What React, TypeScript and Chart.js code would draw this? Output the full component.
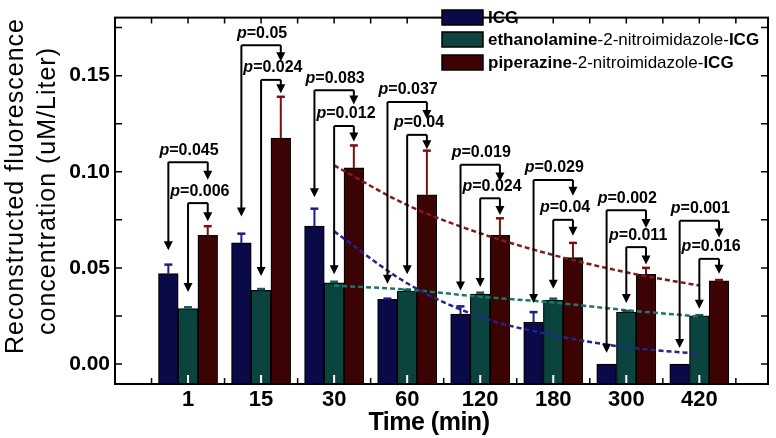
import React, { useEffect, useRef } from 'react';
import { Chart, registerables } from 'chart.js';

Chart.register(...registerables);

// ---------- data ----------
const times = ['1', '15', '30', '60', '120', '180', '300', '420'];

const icgValues = [0.047, 0.063, 0.0717, 0.0336, 0.026, 0.0217, 0, 0];
const icgErrors = [0.0047, 0.0048, 0.0091, 0.0004, 0.004, 0.0053, 0, 0];
const ethValues = [0.0288, 0.0383, 0.0422, 0.038, 0.0364, 0.0333, 0.027, 0.025];
const ethErrors = [0.0007, 0.0007, 0.0006, 0.0006, 0.0007, 0.0007, 0.0006, 0.0004];
const pipValues = [0.067, 0.1175, 0.102, 0.088, 0.067, 0.0553, 0.0467, 0.0433];
const pipErrors = [0.0047, 0.0215, 0.0117, 0.023, 0.0088, 0.0077, 0.0033, 0.0004];

// fitted decay curves, read at the time points 30 ... 420
const fitFromIndex = 2;
const icgFit = [0.069, 0.042, 0.0245, 0.015, 0.0087, 0.0053];
const ethFit = [0.0408, 0.0387, 0.035, 0.032, 0.028, 0.0247];
const pipFit = [0.1033, 0.0827, 0.068, 0.0567, 0.0477, 0.0408];

const seriesLabels = ['ICG', 'ethanolamine-2-nitroimidazole-ICG', 'piperazine-2-nitroimidazole-ICG'];
const legendParts: [string, boolean][][] = [
  [['ICG', true]],
  [['ethanolamine', true], ['-2-nitroimidazole-', false], ['ICG', true]],
  [['piperazine', true], ['-2-nitroimidazole-', false], ['ICG', true]],
];

// p-value brackets (ICG vs piperazine: outer, ethanolamine vs piperazine: inner)
const pOuter = ['0.045', '0.05', '0.083', '0.037', '0.019', '0.029', '0.002', '0.001'];
const pInner = ['0.006', '0.024', '0.012', '0.04', '0.024', '0.04', '0.011', '0.016'];
const outerLevel = [0.105, 0.1658, 0.1424, 0.1363, 0.1037, 0.0957, 0.08, 0.0745];
const outerLeftTip = [0.0592, 0.0767, 0.0867, 0.0417, 0.0383, 0.0317, 0.0058, 0.0083];
const outerRightTip = [0.0958, 0.1575, 0.135, 0.1275, 0.095, 0.0875, 0.0708, 0.0658];
const innerLevel = [0.0837, 0.1478, 0.1238, 0.1192, 0.0862, 0.075, 0.0608, 0.0547];
const innerLeftTip = [0.0375, 0.0458, 0.0467, 0.0467, 0.04, 0.0392, 0.0317, 0.0287];
const innerRightTip = [0.0742, 0.1408, 0.1158, 0.1117, 0.0775, 0.0667, 0.0517, 0.047];

const yTickValues = [0, 0.05, 0.1, 0.15];
const yTickLabels = ['0.00', '0.05', '0.10', '0.15'];
const yMinorTicks = [0, 0.025, 0.05, 0.075, 0.1, 0.125, 0.15, 0.175];
const xMinorTicks = [0.5, 1.5, 2.5, 3.5, 4.5, 5.5, 6.5, 7.5, 8.5];

const xTitle = 'Time (min)';
const yTitle = ['Reconstructed fluorescence', 'concentration (uM/Liter)'];

// ---------- styles ----------
const Y_MIN = -0.0104;
const Y_MAX = 0.1802;
const X_MIN = 0;
const X_MAX = 8.94;
const BAR_W = 19.7;
const FONT = '"Liberation Sans", Arial, Helvetica, sans-serif';
const barColors = ['#0a0a48', '#0b443e', '#3b0303'];
const errColors = ['#1c1c8c', '#1a5a55', '#7a0f0f'];
const fitColors = ['#24248a', '#1d756b', '#7d1c1c'];

const overlay = {
  id: 'overlay',
  beforeDraw(chart: any) {
    const { ctx, width, height } = chart;
    ctx.save();
    ctx.fillStyle = '#fff';
    ctx.fillRect(0, 0, width, height);
    ctx.restore();
  },
  afterDatasetsDraw(chart: any) {
    const { ctx } = chart;
    const xs = chart.scales.x;
    const ys = chart.scales.y;
    const area = chart.chartArea;
    ctx.save();
    // error bars
    const vals = [icgValues, ethValues, pipValues];
    const errs = [icgErrors, ethErrors, pipErrors];
    for (let s = 0; s < 3; s++) {
      ctx.strokeStyle = errColors[s];
      ctx.lineWidth = 2;
      for (let i = 0; i < times.length; i++) {
        if (!errs[s][i]) continue;
        const cx = xs.getPixelForValue(i + 1) + (s - 1) * BAR_W;
        const y0 = ys.getPixelForValue(vals[s][i]);
        const y1 = ys.getPixelForValue(vals[s][i] + errs[s][i]);
        ctx.beginPath();
        ctx.moveTo(cx, y0);
        ctx.lineTo(cx, y1);
        ctx.stroke();
        ctx.lineWidth = 2.5;
        ctx.beginPath();
        ctx.moveTo(cx - 4, y1);
        ctx.lineTo(cx + 4, y1);
        ctx.stroke();
        ctx.lineWidth = 2;
      }
    }
    // white notches at group centres
    ctx.fillStyle = '#fff';
    for (let i = 0; i < times.length; i++) {
      const px = xs.getPixelForValue(i + 1);
      ctx.fillRect(px - 1, area.bottom - 9, 2, 9);
    }
    ctx.restore();
  },
  afterDraw(chart: any) {
    const { ctx } = chart;
    const xs = chart.scales.x;
    const ys = chart.scales.y;
    const a = chart.chartArea;
    ctx.save();
    // frame
    ctx.strokeStyle = '#000';
    ctx.lineWidth = 2;
    ctx.strokeRect(a.left, a.top, a.right - a.left, a.bottom - a.top);
    // ticks
    ctx.lineWidth = 1.5;
    ctx.beginPath();
    for (const v of yMinorTicks) {
      const py = ys.getPixelForValue(v);
      ctx.moveTo(a.left, py);
      ctx.lineTo(a.left + 7, py);
      ctx.moveTo(a.right, py);
      ctx.lineTo(a.right - 7, py);
    }
    for (const v of xMinorTicks) {
      const px = xs.getPixelForValue(v);
      ctx.moveTo(px, a.bottom);
      ctx.lineTo(px, a.bottom - 6);
    }
    for (let v = 0.5; v <= 8.5; v += 0.5) {
      const px = xs.getPixelForValue(v);
      ctx.moveTo(px, a.top);
      ctx.lineTo(px, a.top + 6);
    }
    ctx.stroke();

    // p-value brackets
    const arrow = (x: number, yTop: number, yTip: number) => {
      const head = 9;
      ctx.beginPath();
      ctx.moveTo(x, yTop);
      ctx.lineTo(x, yTip - head + 1);
      ctx.stroke();
      ctx.beginPath();
      ctx.moveTo(x - 4.5, yTip - head);
      ctx.lineTo(x + 4.5, yTip - head);
      ctx.lineTo(x, yTip);
      ctx.closePath();
      ctx.fill();
    };
    const pLabel = (cx: number, cy: number, value: string) => {
      const f1 = `italic bold 16px ${FONT}`;
      const f2 = `bold 16px ${FONT}`;
      const rest = '=' + value;
      ctx.font = f1;
      const w1 = ctx.measureText('p').width;
      ctx.font = f2;
      const w2 = ctx.measureText(rest).width;
      const x0 = cx - (w1 + w2) / 2;
      ctx.textAlign = 'left';
      ctx.textBaseline = 'middle';
      ctx.font = f1;
      ctx.fillText('p', x0, cy);
      ctx.font = f2;
      ctx.fillText(rest, x0 + w1, cy);
    };
    ctx.strokeStyle = '#000';
    ctx.fillStyle = '#000';
    ctx.lineWidth = 2;
    for (let i = 0; i < times.length; i++) {
      const c = xs.getPixelForValue(i + 1);
      const xl = c - BAR_W;
      const xr = c + BAR_W;
      // outer
      const yo = ys.getPixelForValue(outerLevel[i]);
      ctx.beginPath();
      ctx.moveTo(xl, yo);
      ctx.lineTo(xr, yo);
      ctx.stroke();
      arrow(xl, yo, ys.getPixelForValue(outerLeftTip[i]));
      arrow(xr, yo, ys.getPixelForValue(outerRightTip[i]));
      pLabel((xl + xr) / 2 + 1, yo - 12, pOuter[i]);
      // inner
      const yi = ys.getPixelForValue(innerLevel[i]);
      ctx.beginPath();
      ctx.moveTo(c, yi);
      ctx.lineTo(xr, yi);
      ctx.stroke();
      arrow(c, yi, ys.getPixelForValue(innerLeftTip[i]));
      arrow(xr, yi, ys.getPixelForValue(innerRightTip[i]));
      pLabel((c + xr) / 2 + 2, yi - 12, pInner[i]);
    }

    // legend
    const lx = 442;
    const rowsY = [17.5, 39.5, 62.5];
    for (let s = 0; s < 3; s++) {
      const cy = rowsY[s];
      ctx.fillStyle = barColors[s];
      ctx.fillRect(lx, cy - 7.5, 41, 15);
      ctx.strokeStyle = '#000';
      ctx.lineWidth = 1.5;
      ctx.strokeRect(lx, cy - 7.5, 41, 15);
      let tx = lx + 46;
      ctx.fillStyle = '#000';
      ctx.textAlign = 'left';
      ctx.textBaseline = 'middle';
      for (const [txt, bold] of legendParts[s]) {
        ctx.font = `${bold ? 'bold ' : ''}17px ${FONT}`;
        ctx.fillText(txt, tx, cy + 1);
        tx += ctx.measureText(txt).width;
      }
    }

    // axis titles
    ctx.fillStyle = '#000';
    ctx.textAlign = 'center';
    ctx.textBaseline = 'alphabetic';
    ctx.font = `bold 25px ${FONT}`;
    (ctx as any).letterSpacing = '-0.5px';
    ctx.fillText(xTitle, 429, 430);
    (ctx as any).letterSpacing = '1px';
    ctx.font = `25px ${FONT}`;
    const titleX = [23, 55];
    const titleY = [186, 191];
    for (let k = 0; k < yTitle.length; k++) {
      ctx.save();
      ctx.translate(titleX[k], titleY[k]);
      ctx.rotate(-Math.PI / 2);
      ctx.fillText(yTitle[k], 0, 0);
      ctx.restore();
    }
    (ctx as any).letterSpacing = '0px';
    ctx.restore();
  },
};

export default function App() {
  const ref = useRef<HTMLCanvasElement>(null);
  useEffect(() => {
    if (!ref.current) return;
    const barSets = [icgValues, ethValues, pipValues].map((vals, s) => ({
      type: 'bar' as const,
      label: seriesLabels[s],
      data: vals.map((v, i) => ({ x: i + 1, y: v })),
      backgroundColor: barColors[s],
      borderColor: '#000',
      borderWidth: 1.2,
      barThickness: BAR_W,
      base: Y_MIN,
      order: 2,
    }));
    const lineSets = [icgFit, ethFit, pipFit].map((vals, s) => ({
      type: 'line' as const,
      label: seriesLabels[s] + ' fit',
      data: vals.map((v, i) => ({ x: i + 1 + fitFromIndex, y: v })),
      borderColor: fitColors[s],
      borderWidth: 2.5,
      borderDash: [5, 3],
      pointRadius: 0,
      fill: false,
      cubicInterpolationMode: 'monotone' as const,
      order: 0,
    }));
    const chart = new Chart(ref.current, {
      type: 'bar',
      data: { datasets: [...barSets, ...lineSets] as any },
      options: {
        responsive: false,
        animation: false,
        devicePixelRatio: 1,
        layout: { padding: { left: 0, top: 3, right: 8, bottom: 0 } },
        plugins: { legend: { display: false }, tooltip: { enabled: false } },
        scales: {
          x: {
            type: 'linear',
            min: X_MIN,
            max: X_MAX,
            offset: false,
            grid: { display: false, drawTicks: false, offset: false },
            border: { display: false },
            afterBuildTicks: (s: any) => {
              s.ticks = times.map((_, i) => ({ value: i + 1 }));
            },
            ticks: {
              autoSkip: false,
              maxRotation: 0,
              minRotation: 0,
              padding: 3,
              color: '#000',
              font: { family: FONT, size: 22, weight: 'bold' },
              callback: (v: any) => times[Math.round(Number(v)) - 1] ?? '',
            },
            afterFit: (s: any) => {
              s.height = 54;
            },
          } as any,
          y: {
            type: 'linear',
            min: Y_MIN,
            max: Y_MAX,
            grid: { display: false, drawTicks: false },
            border: { display: false },
            afterBuildTicks: (s: any) => {
              s.ticks = yTickValues.map((v) => ({ value: v }));
            },
            ticks: {
              padding: 5,
              color: '#000',
              font: { family: FONT, size: 21, weight: 'bold' },
              callback: (_v: any, i: number) => yTickLabels[i],
            },
            afterFit: (s: any) => {
              s.width = 115;
            },
          } as any,
        },
      },
      plugins: [overlay],
    });
    return () => chart.destroy();
  }, []);
  return (
    <div style={{ position: 'fixed', left: 0, top: 0, width: 776, height: 438, background: '#fff' }}>
      <canvas ref={ref} width={776} height={438} style={{ display: 'block' }} />
    </div>
  );
}
